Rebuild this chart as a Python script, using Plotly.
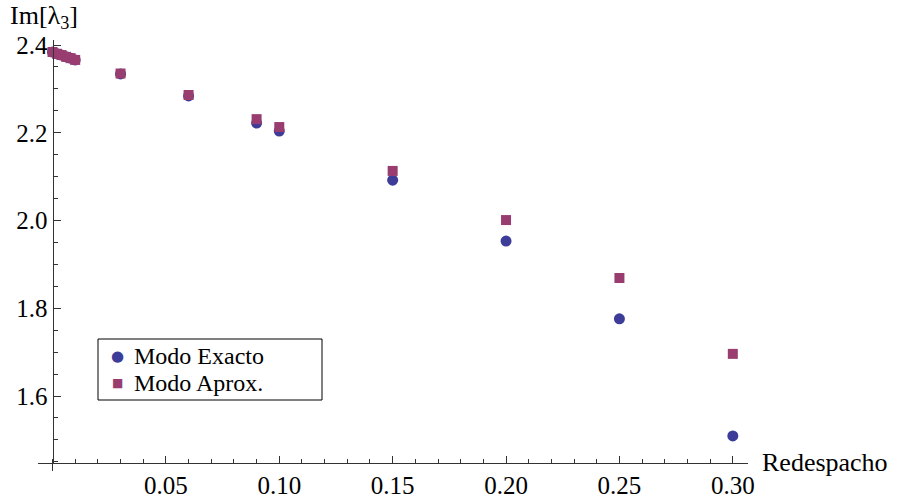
import plotly.graph_objects as go

x_exact = [0.0, 0.002, 0.004, 0.006, 0.008, 0.010, 0.03, 0.06, 0.09, 0.10, 0.15, 0.20, 0.25, 0.30]
y_exact = [2.384, 2.380, 2.377, 2.373, 2.370, 2.366, 2.334, 2.284, 2.222, 2.204, 2.092, 1.953, 1.776, 1.509]
x_aprox = [0.0, 0.002, 0.004, 0.006, 0.008, 0.010, 0.03, 0.06, 0.09, 0.10, 0.15, 0.20, 0.25, 0.30]
y_aprox = [2.384, 2.380, 2.377, 2.373, 2.370, 2.366, 2.335, 2.286, 2.231, 2.213, 2.113, 2.001, 1.869, 1.696]
x_ticks = [0.05, 0.10, 0.15, 0.20, 0.25, 0.30]
x_ticklabels = ["0.05", "0.10", "0.15", "0.20", "0.25", "0.30"]
y_ticks = [1.6, 1.8, 2.0, 2.2, 2.4]
y_ticklabels = ["1.6", "1.8", "2.0", "2.2", "2.4"]
series_names = ["Modo Exacto", "Modo Aprox."]
series_colors = ["#3D3D99", "#993D71"]

FONT = "Liberation Serif"
FS = 26
TFS = 25
AX = "#333333"
xmin, xmax = -0.0064, 0.3067
ymin, ymax = 1.4473, 2.4114
L, T, R, B = 38, 40, 748, 463
PW, PH = R - L, B - T


def px(xp):
    return (xp - L) / PW


def py(yp):
    return (B - yp) / PH


fig = go.Figure()
fig.add_trace(go.Scatter(x=x_exact, y=y_exact, mode="markers", name=series_names[0],
                         marker=dict(symbol="circle", size=11, color=series_colors[0], line=dict(width=0))))
fig.add_trace(go.Scatter(x=x_aprox, y=y_aprox, mode="markers", name=series_names[1],
                         marker=dict(symbol="square", size=10, color=series_colors[1], line=dict(width=0))))

fig.update_layout(
    width=909, height=499,
    margin=dict(l=L, r=909 - R, t=T, b=499 - B, autoexpand=False),
    paper_bgcolor="white", plot_bgcolor="white",
    font=dict(family=FONT, size=FS, color="black"),
    showlegend=False,
    xaxis=dict(range=[xmin, xmax], showgrid=False, zeroline=False, automargin=False,
               showline=True, linecolor=AX, linewidth=1,
               tickmode="array", tickvals=x_ticks, ticktext=x_ticklabels,
               ticks="inside", ticklen=7, tickcolor=AX, ticklabelstandoff=0,
               minor=dict(tickmode="linear", tick0=0, dtick=0.01, ticks="inside", ticklen=4, tickcolor=AX),
               tickfont=dict(family=FONT, size=TFS)),
    yaxis=dict(range=[ymin, ymax], showgrid=False, zeroline=False, automargin=False,
               anchor="free", position=(0 - xmin) / (xmax - xmin),
               showline=True, linecolor=AX, linewidth=1,
               tickmode="array", tickvals=y_ticks, ticktext=y_ticklabels,
               ticks="inside", ticklen=7, tickcolor=AX,
               minor=dict(tickmode="linear", tick0=1.6, dtick=0.05, ticks="inside", ticklen=4, tickcolor=AX),
               tickfont=dict(family=FONT, size=TFS)),
)

# y axis extends a little below the x axis
fig.add_shape(type="line", xref="x", yref="paper", x0=0, x1=0, y0=0, y1=-8 / PH,
              line=dict(color=AX, width=1))

# legend box
fig.add_shape(type="rect", xref="paper", yref="paper", x0=px(98), x1=px(322), y0=py(400), y1=py(339),
              line=dict(color="black", width=1), fillcolor="white", layer="above")
legend_rows = [356, 383]
glyphs = ["●", "■"]
glyph_sizes = [15, 12]
for name, col, g, gs, yr in zip(series_names, series_colors, glyphs, glyph_sizes, legend_rows):
    fig.add_annotation(text=g, xref="paper", yref="paper", x=px(117), y=py(yr),
                       xanchor="center", yanchor="middle", showarrow=False,
                       font=dict(family="DejaVu Sans", size=gs, color=col))
    fig.add_annotation(text=name, xref="paper", yref="paper", x=px(132), y=py(yr),
                       xanchor="left", yanchor="middle", showarrow=False,
                       font=dict(family=FONT, size=24))

fig.add_annotation(text="Im[λ<sub>3</sub>]", xref="paper", yref="paper",
                   x=px(8), y=py(17), xanchor="left", yanchor="middle",
                   showarrow=False, font=dict(family=FONT, size=FS))
fig.add_annotation(text="Redespacho", xref="paper", yref="paper",
                   x=px(760), y=py(462), xanchor="left", yanchor="middle",
                   showarrow=False, font=dict(family=FONT, size=FS))

fig.write_html("out.html")
